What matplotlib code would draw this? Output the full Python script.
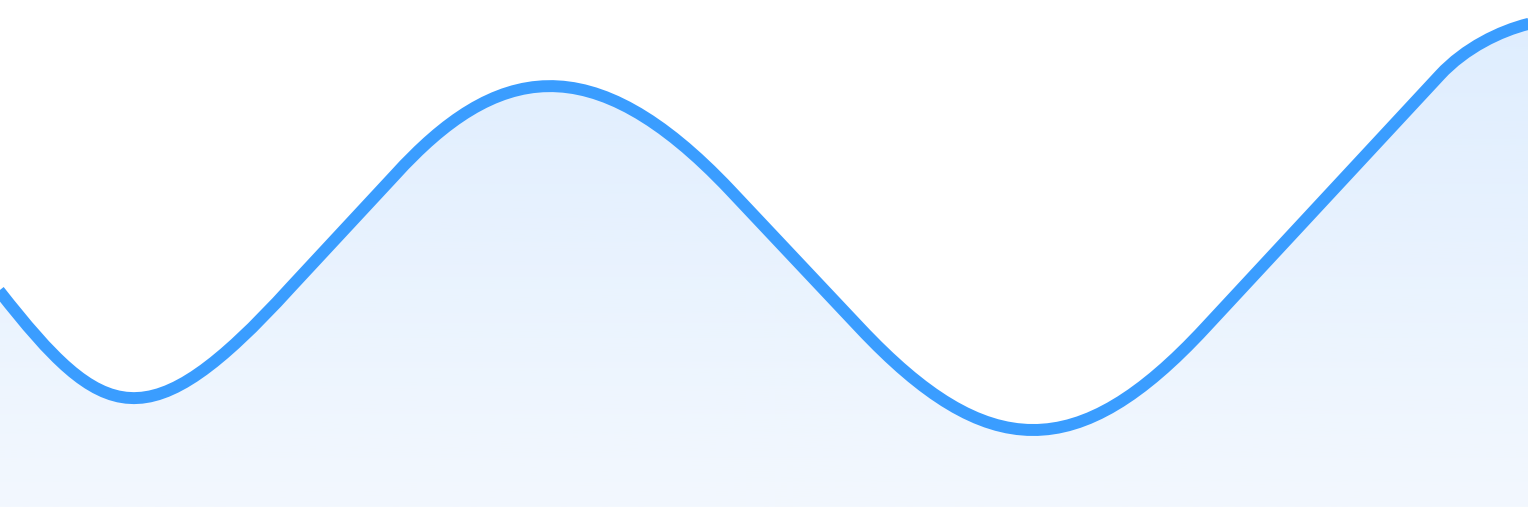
import matplotlib
matplotlib.use('Agg')
import matplotlib.pyplot as plt
import numpy as np
from matplotlib.path import Path
from matplotlib.patches import PathPatch
from matplotlib.colors import LinearSegmentedColormap

# wave: anchor points (x, height from bottom) and segment types
anchor_x = [-20, 0, 290, 395, 730, 860, 1205, 1440, 1528, 1548]
anchor_y = [240, 215, 219, 332, 317, 179, 179, 432, 483, 488]
seg_type = ['L', 'C', 'L', 'C', 'L', 'C', 'L', 'C', 'L']  # segment i goes anchor i -> i+1

# bezier handles for the 'C' segments (in order)
ctrl1_x = [103, 495, 987, 1465]
ctrl1_y = [84, 442, 44, 459]
ctrl2_x = [147, 591, 1078, 1500]
ctrl2_y = [62, 464, 42, 476]

line_color = '#3a9dff'
top_fill = '#deedfe'
bottom_fill = '#f3f8fe'

# build the path
verts = [(anchor_x[0], anchor_y[0])]
codes = [Path.MOVETO]
c = 0
for i, t in enumerate(seg_type):
    if t == 'C':
        verts += [(ctrl1_x[c], ctrl1_y[c]), (ctrl2_x[c], ctrl2_y[c]), (anchor_x[i + 1], anchor_y[i + 1])]
        codes += [Path.CURVE4] * 3
        c += 1
    else:
        verts.append((anchor_x[i + 1], anchor_y[i + 1]))
        codes.append(Path.LINETO)

fig = plt.figure(figsize=(15.28, 5.07), dpi=100)
ax = fig.add_axes([0, 0, 1, 1])
ax.set_xlim(0, 1528)
ax.set_ylim(0, 507)
ax.axis('off')

# area under the wave, filled with a vertical gradient
area_verts = verts + [(anchor_x[-1], 0), (anchor_x[0], 0), verts[0]]
area_codes = codes + [Path.LINETO, Path.LINETO, Path.CLOSEPOLY]
area = PathPatch(Path(area_verts, area_codes), facecolor='none', edgecolor='none')
ax.add_patch(area)

cmap = LinearSegmentedColormap.from_list('fill', [bottom_fill, top_fill])
grad = np.linspace(0, 1, 256).reshape(-1, 1)
img = ax.imshow(grad, cmap=cmap, extent=[0, 1528, 0, 507], origin='lower', aspect='auto', zorder=1)
img.set_clip_path(area)

line = PathPatch(Path(verts, codes), facecolor='none', edgecolor=line_color,
                 linewidth=8.6, joinstyle='round', capstyle='butt', zorder=2)
ax.add_patch(line)

fig.savefig('out.png', dpi=100)
